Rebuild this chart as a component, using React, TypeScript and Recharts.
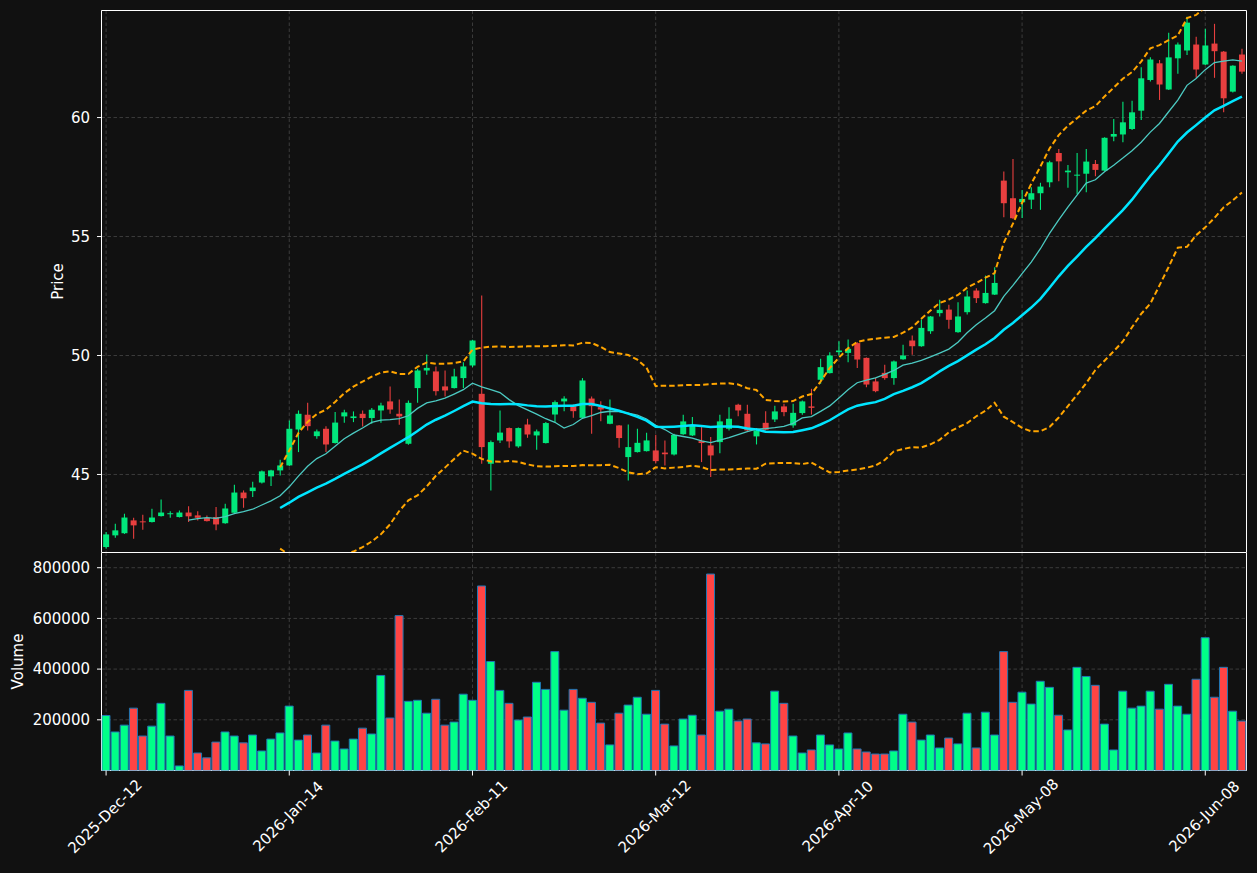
import { ComposedChart, Bar, Line, XAxis, YAxis, CartesianGrid, Cell, ReferenceArea } from 'recharts';

// x axis: one slot per session, labelled every 20 sessions
const tickIdx = [0, 20, 40, 60, 80, 100, 120];
const tickLabels = ['2025-Dec-12', '2026-Jan-14', '2026-Feb-11', '2026-Mar-12', '2026-Apr-10', '2026-May-08', '2026-Jun-08'];

const priceTicks = [45, 50, 55, 60];
const volumeTicks = [200000, 400000, 600000, 800000];

// OHLC
const opens = [
  41.95, 42.44, 42.53, 43.07, 43.03, 43.0, 43.25, 43.33, 43.21, 43.4, 43.28, 43.17, 43.21, 42.95, 43.39, 44.24, 44.3, 44.66, 44.92, 45.17,
  45.38, 46.89, 47.51, 46.61, 46.92, 46.32, 47.44, 47.37, 47.55, 47.37, 47.69, 48.07, 47.55, 46.29, 48.63, 49.37, 49.33, 48.7, 48.63, 49.05,
  49.58, 48.39, 45.45, 46.43, 46.95, 46.18, 47.1, 46.64, 46.32, 47.52, 48.07, 47.87, 47.38, 48.19, 47.83, 47.13, 47.06, 45.73, 45.94, 45.98,
  46.01, 45.92, 45.84, 46.69, 46.64, 46.4, 46.22, 46.36, 46.92, 47.93, 47.55, 46.6, 47.17, 47.31, 47.86, 47.06, 47.58, 47.86, 48.98, 49.26,
  50.14, 50.11, 50.52, 49.9, 48.91, 49.27, 49.05, 49.84, 50.63, 50.39, 51.02, 51.78, 51.93, 50.98, 51.82, 52.73, 52.2, 52.56, 57.35, 56.61,
  56.44, 56.55, 56.82, 57.28, 58.51, 57.7, 57.56, 57.64, 58.05, 57.77, 59.2, 59.29, 59.52, 60.29, 61.58, 62.28, 61.18, 62.49, 62.82, 63.07,
  62.23, 63.11, 62.77, 61.09, 62.65,
];
const highs = [
  42.58, 42.93, 43.35, 43.18, 43.31, 43.56, 43.95, 43.45, 43.49, 43.66, 43.45, 43.28, 43.63, 43.77, 44.57, 44.33, 44.69, 45.17, 45.2, 45.62,
  47.27, 47.69, 48.01, 46.89, 47.03, 47.62, 47.72, 47.65, 47.69, 47.79, 48.01, 48.7, 48.15, 48.11, 49.44, 50.04, 49.54, 49.37, 49.44, 49.72,
  50.66, 52.52, 46.43, 47.69, 46.97, 46.97, 47.34, 46.89, 47.2, 48.11, 48.29, 47.94, 49.05, 48.28, 48.08, 48.15, 47.08, 47.1, 46.92, 46.75,
  46.67, 46.43, 46.71, 47.51, 47.41, 46.99, 46.57, 47.51, 47.83, 47.97, 47.93, 46.95, 47.66, 47.89, 47.97, 47.97, 48.11, 48.6, 49.86, 50.14,
  50.6, 50.67, 50.56, 49.92, 49.05, 49.61, 49.79, 50.45, 50.84, 51.51, 51.66, 52.34, 52.13, 52.24, 52.73, 52.83, 53.36, 53.71, 57.73, 58.26,
  56.96, 57.07, 57.26, 58.19, 58.68, 58.01, 58.51, 58.68, 58.22, 59.17, 59.94, 60.67, 60.71, 62.11, 62.53, 62.42, 63.56, 63.16, 64.24, 63.4,
  63.73, 63.94, 62.8, 62.2, 62.89,
];
const lows = [
  41.88, 42.34, 42.5, 42.3, 42.68, 42.98, 43.23, 43.18, 43.19, 43.0, 43.07, 43.02, 42.65, 42.93, 43.37, 43.6, 44.05, 44.62, 44.51, 44.96,
  45.36, 45.94, 46.85, 46.5, 45.94, 46.3, 47.17, 47.2, 47.02, 47.13, 47.17, 47.55, 47.09, 46.25, 48.01, 49.19, 48.32, 48.28, 48.61, 48.63,
  49.51, 45.45, 44.33, 46.32, 46.12, 46.12, 46.54, 46.04, 46.3, 47.2, 47.66, 47.38, 47.34, 46.71, 47.24, 47.11, 46.12, 44.75, 45.92, 45.96,
  45.47, 45.38, 45.8, 46.67, 46.62, 45.52, 44.89, 45.89, 46.85, 47.45, 46.83, 46.26, 46.86, 47.2, 47.45, 46.96, 47.51, 47.52, 48.81, 49.24,
  50.0, 49.72, 49.47, 48.67, 48.46, 48.98, 48.77, 49.82, 50.03, 50.37, 50.91, 51.64, 51.12, 50.96, 51.72, 52.21, 52.18, 52.54, 55.81, 55.74,
  55.78, 56.16, 56.12, 57.07, 57.32, 57.05, 56.79, 56.86, 57.53, 57.75, 59.0, 58.96, 59.48, 59.9, 61.52, 60.74, 61.16, 61.84, 62.63, 61.67,
  62.21, 61.67, 60.22, 61.05, 61.84,
];
const closes = [
  42.48, 42.65, 43.19, 42.86, 42.99, 43.19, 43.4, 43.37, 43.4, 43.24, 43.18, 43.04, 42.9, 43.57, 44.24, 44.0, 44.45, 45.13, 45.17, 45.38,
  46.92, 47.55, 47.03, 46.81, 46.26, 47.18, 47.61, 47.44, 47.37, 47.72, 47.9, 47.73, 47.44, 48.01, 49.37, 49.48, 48.5, 48.53, 49.12, 49.54,
  50.63, 46.15, 46.36, 46.76, 46.39, 46.95, 46.68, 46.81, 47.16, 48.04, 48.19, 47.66, 48.95, 47.87, 47.73, 47.48, 46.53, 46.15, 46.33, 46.43,
  45.56, 45.85, 46.66, 47.23, 47.06, 46.32, 45.8, 47.23, 47.34, 47.69, 46.85, 46.85, 46.88, 47.65, 47.62, 47.59, 48.07, 47.8, 49.51, 50.0,
  50.21, 50.28, 49.83, 48.78, 48.5, 49.05, 49.75, 50.0, 50.39, 51.16, 51.64, 51.92, 51.5, 51.64, 52.48, 52.41, 52.63, 53.05, 56.4, 55.77,
  56.58, 56.82, 57.1, 58.12, 58.16, 57.77, 57.6, 58.15, 57.8, 59.15, 59.31, 59.8, 60.22, 61.65, 62.44, 61.39, 62.53, 63.07, 63.99, 62.02,
  63.03, 62.79, 60.81, 62.18, 61.93,
];
const volumes = [
  217000, 152000, 179000, 246000, 136000, 175000, 265000, 136000, 18000, 316000, 69000, 50000, 112000, 152000, 136000, 109000, 140000, 77000, 124000, 148000,
  254000, 120000, 140000, 69000, 179000, 116000, 85000, 124000, 167000, 144000, 375000, 207000, 611000, 273000, 277000, 226000, 281000, 179000, 191000, 301000,
  277000, 728000, 430000, 316000, 265000, 199000, 211000, 348000, 320000, 469000, 238000, 320000, 285000, 269000, 187000, 101000, 226000, 258000, 289000, 222000,
  316000, 183000, 97000, 203000, 218000, 140000, 775000, 234000, 242000, 195000, 203000, 109000, 105000, 313000, 265000, 136000, 69000, 81000, 140000, 101000,
  85000, 148000, 85000, 73000, 65000, 65000, 77000, 222000, 191000, 120000, 140000, 89000, 128000, 105000, 226000, 89000, 230000, 140000, 469000, 269000,
  309000, 262000, 352000, 328000, 218000, 160000, 407000, 371000, 336000, 183000, 81000, 313000, 246000, 254000, 313000, 242000, 340000, 254000, 222000, 360000,
  524000, 289000, 407000, 234000, 195000,
];

const UP = '#00ff88';
const DOWN = '#ff4444';
const EDGE = '#1f77b4';
const GRID = '#3c3c3c';
const BG = '#111111';
const FONT = 'DejaVu Sans';

const X_DOMAIN = [-0.5, 124.5];
const PRICE_DOMAIN = [41.72, 64.5];
const VOL_DOMAIN = [0, 860000];

// moving average / bollinger (20, 2) computed from the closes above
const rolling = (vals: number[], n: number, fn: (w: number[]) => number) =>
  vals.map((_, i) => (i < n - 1 ? null : fn(vals.slice(i - n + 1, i + 1))));
const mean = (w: number[]) => w.reduce((a, b) => a + b, 0) / w.length;
const stdev = (w: number[]) => {
  const m = mean(w);
  return Math.sqrt(w.reduce((a, b) => a + (b - m) ** 2, 0) / (w.length - 1));
};
const ma10 = rolling(closes, 10, mean);
const ma20 = rolling(closes, 20, mean);
const sd20 = rolling(closes, 20, stdev);

const data = opens.map((open, i) => ({
  i,
  open,
  high: highs[i],
  low: lows[i],
  close: closes[i],
  volume: volumes[i],
  ma10: ma10[i],
  ma20: ma20[i],
  upper: ma20[i] == null ? null : (ma20[i] as number) + 2 * (sd20[i] as number),
  lower: ma20[i] == null ? null : (ma20[i] as number) - 2 * (sd20[i] as number),
}));

const Candle = (props: any) => {
  const { x, y, width, height, payload } = props;
  const top = Math.min(y, y + height);
  const h = Math.abs(height);
  const { open, close, high, low } = payload;
  const k = h / (high - low);
  const yo = top + (high - open) * k;
  const yc = top + (high - close) * k;
  const color = close >= open ? UP : DOWN;
  const cx = x + width / 2;
  return (
    <g opacity={0.9}>
      <line x1={cx} x2={cx} y1={top} y2={top + h} stroke={color} strokeWidth={1.1} />
      <rect x={x} y={Math.min(yo, yc)} width={width} height={Math.max(Math.abs(yo - yc), 1)} fill={color} />
    </g>
  );
};

const AxisTitle = ({ viewBox, text, gap }: any) => {
  const cx = viewBox.x + viewBox.width - gap;
  const cy = viewBox.y + viewBox.height / 2;
  return (
    <text x={cx} y={cy} transform={`rotate(-90, ${cx}, ${cy})`} textAnchor="middle" dominantBaseline="central"
      fill="#ffffff" fontSize={15} fontFamily={FONT}>
      {text}
    </text>
  );
};

const DateTick = ({ x, y, payload }: any) => {
  const label = tickLabels[tickIdx.indexOf(payload.value)];
  return (
    <g transform={`translate(${x - 1},${y + 39})`}>
      <text transform="rotate(-45)" textAnchor="middle" dominantBaseline="central" fill="#ffffff" fontSize={15} fontFamily={FONT}>
        {label}
      </text>
    </g>
  );
};

const yTick = { fill: '#ffffff', fontSize: 15, fontFamily: FONT };

const App = () => {
  return (
    <div style={{ position: 'absolute', left: 0, top: 0, width: 1257, height: 873, background: BG }}>
      <div style={{ position: 'absolute', left: 0, top: 0 }}>
        <ComposedChart width={1257} height={553} data={data} barCategoryGap="18%"
          margin={{ top: 10.5, right: 10.5, bottom: 0.5, left: 0 }}>
          <CartesianGrid stroke={GRID} strokeDasharray="3.5 2.5" />
          <XAxis dataKey="i" type="number" domain={X_DOMAIN} ticks={tickIdx} allowDataOverflow hide />
          <YAxis width={101.5} domain={PRICE_DOMAIN} ticks={priceTicks} allowDataOverflow
            tick={yTick} tickLine={{ stroke: '#ffffff' }} axisLine={false} tickSize={4.5} tickMargin={7}
            label={(p: any) => <AxisTitle {...p} text="Price" gap={44} />} />
          <Bar dataKey={(d: any) => [d.low, d.high]} shape={<Candle />} isAnimationActive={false} />
          <Line dataKey="ma10" stroke="#4ccac2" strokeWidth={1.3} dot={false} activeDot={false} isAnimationActive={false} />
          <Line dataKey="ma20" stroke="#00e5ff" strokeWidth={2.5} dot={false} activeDot={false} isAnimationActive={false} />
          <Line dataKey="upper" stroke="#ffa500" strokeWidth={2} strokeDasharray="5.5 3" dot={false} activeDot={false} isAnimationActive={false} />
          <Line dataKey="lower" stroke="#ffa500" strokeWidth={2} strokeDasharray="5.5 3" dot={false} activeDot={false} isAnimationActive={false} />
          <ReferenceArea x1={X_DOMAIN[0]} x2={X_DOMAIN[1]} y1={PRICE_DOMAIN[0]} y2={PRICE_DOMAIN[1]} fill="none" stroke="#ffffff" strokeWidth={1} />
        </ComposedChart>
      </div>
      <div style={{ position: 'absolute', left: 0, top: 552 }}>
        <ComposedChart width={1257} height={321} data={data} barCategoryGap="5%"
          margin={{ top: 0.5, right: 10.5, bottom: 0, left: 0 }}>
          <CartesianGrid stroke={GRID} strokeDasharray="3.5 2.5" />
          <XAxis dataKey="i" type="number" domain={X_DOMAIN} ticks={tickIdx} allowDataOverflow height={102.5}
            tick={<DateTick />} tickLine={{ stroke: '#ffffff' }} axisLine={false} tickSize={5} tickMargin={2} interval={0} />
          <YAxis width={101.5} domain={VOL_DOMAIN} ticks={volumeTicks} allowDataOverflow
            tick={yTick} tickLine={{ stroke: '#ffffff' }} axisLine={false} tickSize={4.5} tickMargin={7}
            label={(p: any) => <AxisTitle {...p} text="Volume" gap={84} />} />
          <Bar dataKey="volume" stroke={EDGE} strokeWidth={1} isAnimationActive={false}>
            {data.map((d) => (
              <Cell key={d.i} fill={d.close >= d.open ? UP : DOWN} stroke={EDGE} strokeWidth={1} />
            ))}
          </Bar>
          <ReferenceArea x1={X_DOMAIN[0]} x2={X_DOMAIN[1]} y1={VOL_DOMAIN[0]} y2={VOL_DOMAIN[1]} fill="none" stroke="#ffffff" strokeWidth={1} />
        </ComposedChart>
      </div>
    </div>
  );
};

export default App;
